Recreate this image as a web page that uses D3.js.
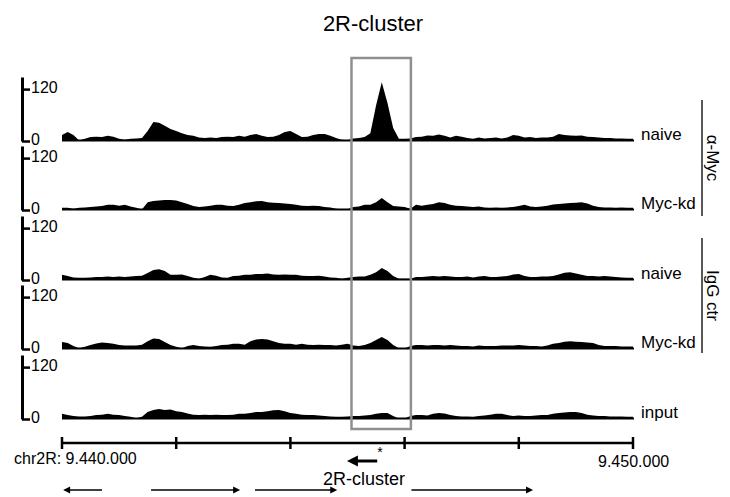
<!DOCTYPE html>
<html>
<head>
<meta charset="utf-8">
<script src="https://cdn.jsdelivr.net/npm/d3@7"></script>
<style>
  html, body { margin: 0; padding: 0; background: #fff; }
  svg { display: block; font-family: "Liberation Sans", Arial, sans-serif; }
</style>
</head>
<body>
<svg id="chart" width="730" height="497"></svg>
<script>
// ChIP coverage around the 2R-cluster, 100 bp bins from chr2R:9,440,000 to 9,450,000
const regionStart = 9440000;
const regionEnd = 9450000;
const binSize = 100;

const trackNames = ["naive", "Myc-kd", "naive", "Myc-kd", "input"];

const mycNaive = [14,21,14,1,5,9,10,9,12,10,5,3,5,6,7,23,44,42,35,28,23,18,14,12,8,7,8,7,9,10,9,12,10,14,16,12,9,10,14,21,23,16,9,10,14,16,16,12,7,3,2,6,7,9,18,82,136,88,30,5,5,6,9,10,13,12,15,12,8,12,10,7,5,8,6,7,8,6,8,14,12,8,9,7,8,8,10,16,14,13,12,13,10,9,8,7,7,6,6,5,5];
const mycKd = [5,5,3,5,6,7,8,9,12,12,10,12,8,5,1,18,21,22,23,23,22,18,14,9,7,8,10,12,12,10,9,12,16,18,20,21,18,17,16,15,14,12,10,9,10,9,7,6,3,2,2,7,8,12,12,18,28,18,9,8,7,3,12,10,12,14,18,16,12,10,9,8,7,8,6,5,6,5,6,7,9,12,8,7,8,10,13,14,15,16,17,18,15,10,7,6,6,5,6,5,5];
const iggNaive = [12,9,6,5,5,6,7,7,8,7,8,7,8,9,10,16,23,25,21,12,12,13,9,5,3,7,12,10,6,5,9,10,12,12,14,14,15,13,12,13,12,12,10,9,9,10,8,6,5,3,5,7,8,8,12,18,28,21,9,3,3,3,7,7,8,9,8,9,8,7,7,8,6,8,9,7,7,8,9,13,14,9,7,7,8,8,9,13,17,18,15,12,9,9,8,9,8,7,6,5,5];
const iggKd = [16,14,7,2,5,9,13,15,14,12,9,8,8,8,10,18,24,23,16,9,5,2,7,9,7,6,5,7,9,10,12,12,10,18,22,23,22,18,14,12,12,10,12,10,9,10,9,9,8,10,12,8,7,9,14,21,28,21,9,2,1,7,9,9,8,9,9,8,9,8,7,7,6,8,7,7,7,8,8,8,9,8,7,7,6,8,12,14,17,18,17,16,15,14,9,7,7,7,6,6,6];
const inputReads = [12,9,7,6,6,7,9,10,12,10,9,7,5,2,5,16,21,23,21,22,18,16,13,10,9,10,9,10,9,9,10,12,12,14,16,16,18,20,21,18,14,12,10,9,9,8,7,6,5,5,6,7,7,8,9,12,14,14,7,1,1,7,9,9,8,12,14,13,9,7,6,6,5,7,8,10,12,12,9,7,8,7,7,8,9,9,12,14,15,16,16,14,10,8,7,7,6,6,6,5,5];

const trackValues = [mycNaive, mycKd, iggNaive, iggKd, inputReads];

const yTicks = [0, 120];
const yMax = 148;
const axisTicks = [9440000, 9442000, 9444000, 9446000, 9448000, 9450000];
const startLabel = "chr2R: 9.440.000";
const endLabel = "9.450.000";

const groupLabels = ["\u03B1-Myc", "IgG ctr"];

// highlighted region of the 2R-cluster
const clusterRegion = [9445070, 9446110];
const clusterArrow = { start: 9444990, end: 9445520, strand: "-" };
const clusterLabel = "2R-cluster";
const genes = [
  { start: 9440020, end: 9440700, strand: "-" },
  { start: 9441560, end: 9443120, strand: "+" },
  { start: 9443380, end: 9444820, strand: "+" },
  { start: 9446120, end: 9448250, strand: "+" }
];

const svg = d3.select("#chart");

const x = d3.scaleLinear().domain([regionStart, regionEnd]).range([62, 633]);
const baselines = [141, 210, 280, 349, 419];
const trackHeight = 64;

// title
svg.append("text")
  .attr("x", 373).attr("y", 31)
  .attr("text-anchor", "middle")
  .attr("font-size", 22)
  .text("2R-cluster");

trackValues.forEach((vals, k) => {
  const b = baselines[k];
  const y = d3.scaleLinear().domain([0, yMax]).range([b, b - trackHeight]);
  const pts = vals.map((v, i) => [regionStart + i * binSize, v]);

  const area = d3.area()
    .x(d => x(d[0]))
    .y0(b)
    .y1(d => y(d[1]));

  svg.append("path")
    .datum(pts)
    .attr("d", area)
    .attr("fill", "#000");

  // baseline of the track
  svg.append("line")
    .attr("x1", x(regionStart)).attr("x2", x(regionEnd) + 1)
    .attr("y1", b - 0.5).attr("y2", b - 0.5)
    .attr("stroke", "#000").attr("stroke-width", 2);

  // scale bar on the left
  const ax = svg.append("g")
    .attr("transform", "translate(22,0)")
    .call(d3.axisRight(y).tickValues(yTicks).tickSize(8).tickSizeOuter(0).tickPadding(1));
  ax.select(".domain").attr("stroke", "#000").attr("stroke-width", 3);
  ax.selectAll(".tick line").attr("stroke", "#000").attr("stroke-width", 2.5);
  ax.selectAll(".tick text")
    .attr("font-size", 16)
    .attr("font-family", "Liberation Sans, Arial, sans-serif")
    .attr("fill", "#000")
    .attr("y", -2);

  // sample label
  svg.append("text")
    .attr("x", 641).attr("y", b - 1)
    .attr("font-size", 17)
    .text(trackNames[k]);
});

// group brackets on the right
const groups = [
  { label: groupLabels[0], y0: 100, y1: 216 },
  { label: groupLabels[1], y0: 238, y1: 353 }
];
groups.forEach(g => {
  svg.append("line")
    .attr("x1", 702).attr("x2", 702)
    .attr("y1", g.y0).attr("y2", g.y1)
    .attr("stroke", "#222").attr("stroke-width", 1.5);
  const cy = (g.y0 + g.y1) / 2;
  svg.append("text")
    .attr("transform", `translate(707,${cy}) rotate(90)`)
    .attr("text-anchor", "middle")
    .attr("font-size", 17)
    .text(g.label);
});

// highlighted cluster box
svg.append("rect")
  .attr("x", x(clusterRegion[0])).attr("y", 58)
  .attr("width", x(clusterRegion[1]) - x(clusterRegion[0]))
  .attr("height", 371)
  .attr("fill", "none")
  .attr("stroke", "#8f8f8f")
  .attr("stroke-width", 2.5);

// genomic coordinate axis
const axisY = 443;
svg.append("line")
  .attr("x1", x(regionStart)).attr("x2", x(regionEnd))
  .attr("y1", axisY).attr("y2", axisY)
  .attr("stroke", "#000").attr("stroke-width", 2.5);
svg.selectAll(".gtick")
  .data(axisTicks)
  .join("line")
  .attr("class", "gtick")
  .attr("x1", d => x(d)).attr("x2", d => x(d))
  .attr("y1", axisY - 6).attr("y2", axisY + 6)
  .attr("stroke", "#000").attr("stroke-width", 2.5);

svg.append("text")
  .attr("x", 14).attr("y", 464)
  .attr("font-size", 16)
  .text(startLabel);
svg.append("text")
  .attr("x", 598).attr("y", 467)
  .attr("font-size", 16)
  .text(endLabel);

svg.append("text")
  .attr("x", 380).attr("y", 457)
  .attr("text-anchor", "middle")
  .attr("font-size", 14)
  .text("*");

// gene arrows
function drawArrow(gene, yPos, width, headLen, headHalf) {
  const tip = gene.strand === "+" ? x(gene.end) : x(gene.start);
  const tail = gene.strand === "+" ? x(gene.start) : x(gene.end);
  const dir = gene.strand === "+" ? 1 : -1;
  const base = tip - dir * headLen;
  svg.append("line")
    .attr("x1", tail).attr("x2", base + dir * 1)
    .attr("y1", yPos).attr("y2", yPos)
    .attr("stroke", "#000").attr("stroke-width", width);
  svg.append("path")
    .attr("d", `M${tip},${yPos} L${base},${yPos - headHalf} L${base},${yPos + headHalf} Z`)
    .attr("fill", "#000");
}

drawArrow(clusterArrow, 461, 3, 11, 5.5);
svg.append("text")
  .attr("x", 323).attr("y", 485)
  .attr("font-size", 18)
  .text(clusterLabel);

genes.forEach(g => drawArrow(g, 490, 1.4, 7, 3.5));
</script>
</body>
</html>
